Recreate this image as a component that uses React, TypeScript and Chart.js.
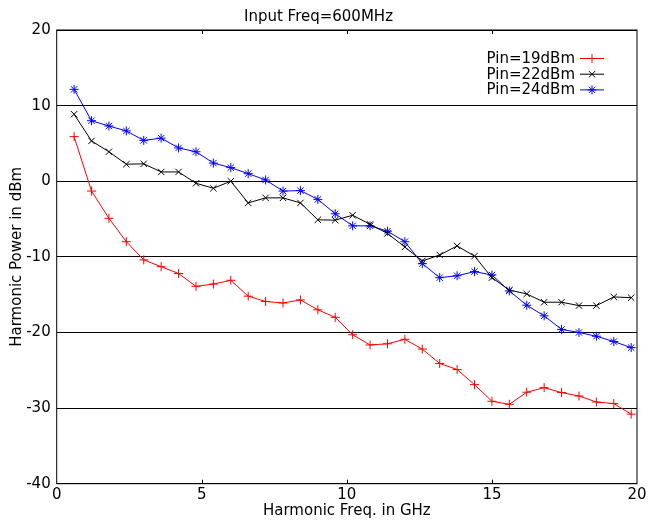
import React, { useEffect, useRef } from "react";
import { Chart, registerables } from "chart.js";

Chart.register(...registerables);

const freqs = [0.6, 1.2, 1.8, 2.4, 3.0, 3.6, 4.2, 4.8, 5.4, 6.0, 6.6, 7.2, 7.8, 8.4, 9.0, 9.6, 10.2, 10.8, 11.4, 12.0, 12.6, 13.2, 13.8, 14.4, 15.0, 15.6, 16.2, 16.8, 17.4, 18.0, 18.6, 19.2, 19.8];
const pin19 = [5.9, -1.3, -4.9, -8.0, -10.4, -11.3, -12.2, -13.9, -13.6, -13.1, -15.2, -15.9, -16.1, -15.7, -17.0, -18.0, -20.3, -21.65, -21.5, -20.9, -22.2, -24.1, -24.9, -26.9, -29.1, -29.5, -27.9, -27.3, -27.95, -28.4, -29.2, -29.4, -30.8];
const pin22 = [8.86, 5.33, 3.9, 2.25, 2.3, 1.23, 1.23, -0.27, -0.93, 0.0, -2.87, -2.2, -2.2, -2.87, -5.1, -5.15, -4.5, -5.7, -6.9, -8.7, -10.55, -9.75, -8.56, -9.9, -12.75, -14.4, -14.9, -16.0, -16.0, -16.45, -16.45, -15.3, -15.4];
const pin24 = [12.15, 8.0, 7.3, 6.65, 5.4, 5.7, 4.4, 3.9, 2.4, 1.8, 1.0, 0.17, -1.3, -1.24, -2.4, -4.3, -5.9, -5.9, -6.6, -8.0, -10.9, -12.75, -12.5, -11.95, -12.4, -14.5, -16.4, -17.8, -19.6, -20.0, -20.5, -21.2, -22.0];
const seriesLabels = ["Pin=19dBm", "Pin=22dBm", "Pin=24dBm"];
const seriesColors = ["#ff0000", "#000000", "#0000ff"];
const seriesMarkers = ["cross", "crossRot", "star"];
const xTicks = [0, 5, 10, 15, 20];
const yTicks = [-40, -30, -20, -10, 0, 10, 20];

const FONT = "'DejaVu Sans', sans-serif";

function drawMarker(ctx: CanvasRenderingContext2D, style: string, x: number, y: number, r: number, color: string) {
  ctx.save();
  ctx.strokeStyle = color;
  ctx.lineWidth = 1;
  ctx.beginPath();
  const d = r * Math.SQRT1_2;
  if (style === "cross" || style === "star") {
    ctx.moveTo(x - r, y);
    ctx.lineTo(x + r, y);
    ctx.moveTo(x, y - r);
    ctx.lineTo(x, y + r);
  }
  if (style === "crossRot" || style === "star") {
    ctx.moveTo(x - d, y - d);
    ctx.lineTo(x + d, y + d);
    ctx.moveTo(x - d, y + d);
    ctx.lineTo(x + d, y - d);
  }
  ctx.stroke();
  ctx.restore();
}

const framePlugin = {
  id: "frame",
  afterDraw(chart: any) {
    const { ctx, chartArea } = chart;
    const { left, right, top, bottom } = chartArea;
    ctx.save();
    ctx.strokeStyle = "#000";
    ctx.lineWidth = 1;
    ctx.strokeRect(left, top, right - left, bottom - top);
    const xs = chart.scales.x;
    ctx.beginPath();
    for (const t of xTicks.slice(1, -1)) {
      const px = Math.round(xs.getPixelForValue(t)) + 0.5;
      ctx.moveTo(px, bottom);
      ctx.lineTo(px, bottom - 4);
      ctx.moveTo(px, top);
      ctx.lineTo(px, top + 4);
    }
    ctx.stroke();
    // legend
    const ds = chart.data.datasets;
    const textRight = 575;
    const lx0 = 580;
    const lx1 = 604;
    ctx.font = "15px " + FONT;
    ctx.textAlign = "right";
    ctx.textBaseline = "middle";
    ds.forEach((d: any, i: number) => {
      const y = 58.5 + i * 15.7;
      ctx.fillStyle = "#000";
      ctx.fillText(d.label, textRight, y + 0.5);
      ctx.strokeStyle = d.borderColor;
      ctx.lineWidth = 1;
      ctx.beginPath();
      ctx.moveTo(lx0, y);
      ctx.lineTo(lx1, y);
      ctx.stroke();
      drawMarker(ctx, d.pointStyle, (lx0 + lx1) / 2, y, 4.5, d.borderColor);
    });
    ctx.restore();
  },
};

export default function App() {
  const ref = useRef<HTMLCanvasElement | null>(null);
  useEffect(() => {
    document.body.style.margin = "0";
    const canvas = ref.current;
    if (!canvas) return;
    const seriesData = [pin19, pin22, pin24];
    const chart = new Chart(canvas, {
      type: "line",
      data: {
        datasets: seriesData.map((vals, i) => ({
          label: seriesLabels[i],
          data: freqs.map((f, j) => ({ x: f, y: vals[j] })),
          borderColor: seriesColors[i],
          backgroundColor: seriesColors[i],
          borderWidth: 1,
          pointStyle: seriesMarkers[i] as any,
          pointRadius: 4.5,
          pointBorderWidth: 1,
          pointBorderColor: seriesColors[i],
          fill: false,
          tension: 0,
        })),
      },
      options: {
        responsive: false,
        animation: false,
        devicePixelRatio: 1,
        layout: { padding: { left: 0, right: 12, top: 0, bottom: 0 } },
        plugins: {
          legend: { display: false },
          tooltip: { enabled: false },
          title: {
            display: true,
            text: "Input Freq=600MHz",
            color: "#000",
            font: { family: FONT, size: 15, weight: "normal" },
            padding: { top: 8, bottom: 4 },
          },
        },
        scales: {
          x: {
            type: "linear",
            min: 0,
            max: 20,
            afterBuildTicks: (s: any) => {
              s.ticks = xTicks.map((v) => ({ value: v }));
            },
            afterFit: (s: any) => {
              s.height = 41.3;
            },
            ticks: {
              color: "#000",
              font: { family: FONT, size: 15 },
              padding: 2,
              maxRotation: 0,
            },
            grid: { display: false, drawTicks: false },
            border: { display: false },
            title: {
              display: true,
              text: "Harmonic Freq. in GHz",
              color: "#000",
              font: { family: FONT, size: 15 },
              padding: { top: 0, bottom: 5 },
            },
          },
          y: {
            type: "linear",
            min: -40,
            max: 20,
            afterBuildTicks: (s: any) => {
              s.ticks = yTicks.map((v) => ({ value: v }));
            },
            afterFit: (s: any) => {
              s.width = 56.7;
            },
            ticks: {
              color: "#000",
              font: { family: FONT, size: 15 },
              padding: 6,
            },
            grid: { color: "#000", lineWidth: 1, drawTicks: false },
            border: { display: false },
            title: {
              display: true,
              text: "Harmonic Power in dBm",
              color: "#000",
              font: { family: FONT, size: 15 },
              padding: { top: 8, bottom: 0 },
            },
          },
        },
      },
      plugins: [framePlugin],
    });
    return () => chart.destroy();
  }, []);
  return (
    <div style={{ width: 649, height: 525 }}>
      <canvas ref={ref} width={649} height={525} style={{ display: "block", width: 649, height: 525 }} />
    </div>
  );
}
